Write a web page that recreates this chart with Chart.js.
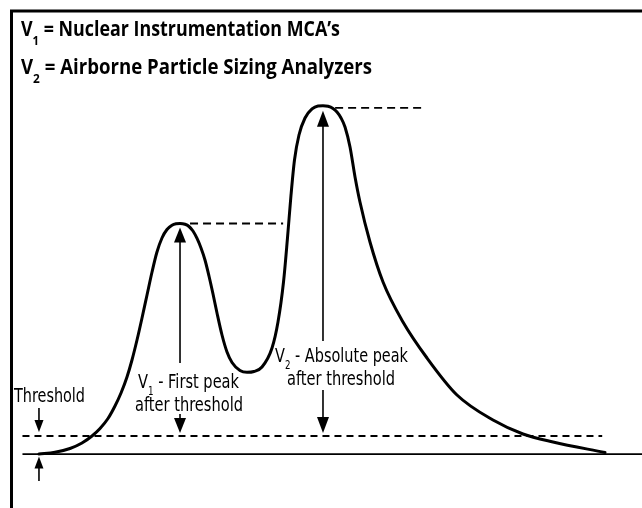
<!DOCTYPE html>
<html>
<head>
<meta charset="utf-8">
<script src="https://cdn.jsdelivr.net/npm/chart.js@4/dist/chart.umd.min.js"></script>
<style>
  html, body { margin: 0; padding: 0; background: #fff; }
  canvas { display: block; }
</style>
</head>
<body>
<canvas id="c" width="642" height="508"></canvas>
<script>
// ---- data ----
const channel   = [6.07, 8.57, 10.90, 12.77, 14.33, 15.58, 16.82, 17.91, 18.85, 19.78,
                   20.56, 21.34, 22.12, 22.90, 23.68, 24.45, 25.23, 26.01, 26.79, 27.41,
                   28.04, 28.82, 29.44, 30.06, 30.69, 31.31, 31.93, 32.55, 33.18, 33.80,
                   34.58, 35.36, 36.14, 37.38, 38.47, 39.56, 40.81, 42.37, 43.30, 44.16,
                   44.78, 45.33, 45.87, 46.57, 47.51, 48.60, 49.53, 50.31, 51.09, 51.87,
                   52.49, 53.12, 53.74, 54.52, 55.30, 56.07, 57.63, 59.66, 62.77, 66.51,
                   71.18, 76.79, 81.46, 86.14, 94.24];
const amplitude = [0.0, 0.51, 1.60, 3.18, 5.19, 7.35, 10.22, 13.82, 17.55, 22.15,
                   27.04, 32.78, 39.11, 45.72, 52.33, 58.08, 62.10, 64.54, 65.75, 66.18,
                   66.27, 66.04, 65.40, 64.11, 61.96, 59.22, 55.77, 51.18, 46.00, 40.54,
                   34.22, 29.33, 26.32, 24.02, 23.50, 23.73, 25.02, 30.48, 37.96, 49.45,
                   62.10, 74.46, 84.52, 91.70, 96.59, 99.18, 100.04, 100.12, 99.95, 99.32,
                   98.31, 96.59, 94.00, 88.25, 79.63, 72.44, 60.95, 49.45, 37.96, 27.61,
                   16.98, 9.78, 5.77, 3.47, 0.45];
const baselineLevel  = 0;
const thresholdLevel = 5.2;
const baselineRange  = [3.5, 100];
const thresholdRange = [3.5, 93.8];
const peak1MarkerRange = [29.6, 44.1];
const peak2MarkerRange = [52.2, 66.2];
const titleLines = [
  { main: 'V', sub: '1', rest: ' = Nuclear Instrumentation MCA\u2019s' },
  { main: 'V', sub: '2', rest: ' = Airborne Particle Sizing Analyzers' }
];
const v1Label = [{ main: 'V', sub: '1', rest: ' - First peak' }, 'after threshold'];
const v2Label = [{ main: 'V', sub: '2', rest: ' - Absolute peak' }, 'after threshold'];
const thresholdLabel = 'Threshold';

// ---- derived peaks ----
let p1 = 0;
for (let i = 1; i < amplitude.length - 1; i++) {
  if (amplitude[i] >= amplitude[i - 1] && amplitude[i] >= amplitude[i + 1]) { p1 = i; break; }
}
let p2 = 0;
amplitude.forEach((v, i) => { if (v > amplitude[p2]) p2 = i; });

const curve = channel.map((x, i) => ({ x, y: amplitude[i] }));
const hline = (r, y) => [{ x: r[0], y }, { x: r[1], y }];

const TITLE_FONT = '"Open Sans", "Liberation Sans", sans-serif';
const NOTE_FONT = '"Liberation Sans Narrow", "DejaVu Sans Condensed", "Liberation Sans", sans-serif';

function richLine(ctx, parts, x, y, width, align) {
  let nat = 0;
  parts.forEach(p => { ctx.font = p.font; p.w = ctx.measureText(p.t).width; nat += p.w; });
  const sx = width / nat;
  const x0 = align === 'center' ? x - width / 2 : x;
  ctx.save();
  ctx.translate(x0, y);
  ctx.scale(sx, 1);
  ctx.textBaseline = 'alphabetic';
  ctx.textAlign = 'left';
  let cx = 0;
  parts.forEach(p => { ctx.font = p.font; ctx.fillText(p.t, cx, p.dy || 0); cx += p.w; });
  ctx.restore();
}

function arrowHead(ctx, x, tipY, dir, len, half) {
  ctx.beginPath();
  ctx.moveTo(x, tipY);
  ctx.lineTo(x - half, tipY - dir * len);
  ctx.lineTo(x + half, tipY - dir * len);
  ctx.closePath();
  ctx.fill();
}
function vline(ctx, x, y1, y2) {
  ctx.beginPath(); ctx.moveTo(x, y1); ctx.lineTo(x, y2); ctx.stroke();
}

const decor = {
  id: 'decor',
  beforeDraw(chart) {
    const ctx = chart.ctx;
    ctx.save();
    ctx.fillStyle = '#fff';
    ctx.fillRect(0, 0, chart.width, chart.height);
    ctx.restore();
  },
  afterDatasetsDraw(chart) {
    const ctx = chart.ctx;
    const X = v => chart.scales.x.getPixelForValue(v);
    const Y = v => chart.scales.y.getPixelForValue(v);
    ctx.save();
    ctx.strokeStyle = '#000';
    ctx.fillStyle = '#000';
    ctx.setLineDash([]);

    // frame (top and left)
    ctx.lineWidth = 3;
    ctx.beginPath();
    ctx.moveTo(11.5, chart.height);
    ctx.lineTo(11.5, 11);
    ctx.lineTo(chart.width, 11);
    ctx.stroke();

    // titles
    const tl = [{ y: 35.7, w: 319 }, { y: 73.5, w: 351 }];
    titleLines.forEach((t, i) => {
      richLine(ctx, [
        { t: t.main, font: 'bold 20.5px ' + TITLE_FONT },
        { t: t.sub, font: 'bold 13px ' + TITLE_FONT, dy: 9.5 },
        { t: t.rest, font: 'bold 20.5px ' + TITLE_FONT }
      ], 21, tl[i].y, tl[i].w, 'left');
    });

    const yThr = Y(thresholdLevel);
    const yBase = Y(baselineLevel);
    ctx.lineWidth = 1.6;

    // V1 arrow + label
    const x1 = X(channel[p1]);
    const y1 = Y(amplitude[p1]);
    const l1a = yThr - 48, l1b = yThr - 25;
    vline(ctx, x1, y1 + 10, l1a - 25);
    vline(ctx, x1, l1b + 3, yThr - 8);
    arrowHead(ctx, x1, y1 + 4, -1, 15, 6);
    arrowHead(ctx, x1, yThr - 3, 1, 15, 6);
    richLine(ctx, [
      { t: v1Label[0].main, font: '20px ' + NOTE_FONT },
      { t: v1Label[0].sub, font: '12px ' + NOTE_FONT, dy: 7 },
      { t: v1Label[0].rest, font: '20px ' + NOTE_FONT }
    ], x1 + 8.5, l1a, 101, 'center');
    richLine(ctx, [{ t: v1Label[1], font: '20px ' + NOTE_FONT }], x1 + 9, l1b, 108, 'center');

    // V2 arrow + label
    const x2 = X(channel[p2]);
    const y2 = Y(amplitude[p2]);
    const l2a = yThr - 73.5, l2b = yThr - 50.5;
    vline(ctx, x2, y2 + 10, l2a - 21.5);
    vline(ctx, x2, l2b + 4.5, yThr - 8);
    arrowHead(ctx, x2, y2 + 5, -1, 16, 6);
    arrowHead(ctx, x2, yThr - 3, 1, 16, 6);
    richLine(ctx, [
      { t: v2Label[0].main, font: '20px ' + NOTE_FONT },
      { t: v2Label[0].sub, font: '12px ' + NOTE_FONT, dy: 7 },
      { t: v2Label[0].rest, font: '20px ' + NOTE_FONT }
    ], x2 + 18.5, l2a, 133, 'center');
    richLine(ctx, [{ t: v2Label[1], font: '20px ' + NOTE_FONT }], x2 + 18, l2b, 108, 'center');

    // threshold arrows + label
    const xt = X(channel[0]);
    vline(ctx, xt, yThr - 28, yThr - 10);
    arrowHead(ctx, xt, yThr - 4, 1, 12, 4.5);
    vline(ctx, xt, yBase + 10, yBase + 27);
    arrowHead(ctx, xt, yBase + 2.5, -1, 12, 4.5);
    richLine(ctx, [{ t: thresholdLabel, font: '20px ' + NOTE_FONT }], 14, yThr - 34, 71, 'left');

    ctx.restore();
  }
};

new Chart(document.getElementById('c'), {
  type: 'scatter',
  data: {
    datasets: [
      { data: hline(baselineRange, baselineLevel), showLine: true, borderColor: '#000', borderWidth: 1.8, pointRadius: 0, clip: false, order: 3 },
      { data: hline(thresholdRange, thresholdLevel), showLine: true, borderColor: '#000', borderWidth: 2, borderDash: [7, 5], pointRadius: 0, clip: false, order: 3 },
      { data: hline(peak1MarkerRange, amplitude[p1]), showLine: true, borderColor: '#000', borderWidth: 1.8, borderDash: [8, 5], pointRadius: 0, clip: false, order: 3 },
      { data: hline(peak2MarkerRange, amplitude[p2] - 0.6), showLine: true, borderColor: '#000', borderWidth: 1.8, borderDash: [8, 5], pointRadius: 0, clip: false, order: 3 },
      { data: curve, showLine: true, borderColor: '#000', borderWidth: 3, pointRadius: 0, cubicInterpolationMode: 'monotone', borderJoinStyle: 'round', borderCapStyle: 'round', clip: false, order: 1 }
    ]
  },
  options: {
    responsive: false,
    animation: false,
    events: [],
    layout: { padding: 0 },
    plugins: { legend: { display: false }, tooltip: { enabled: false }, title: { display: false } },
    scales: {
      x: { type: 'linear', display: false, min: 0, max: 100 },
      y: { type: 'linear', display: false, min: -15.5, max: 130.5 }
    }
  },
  plugins: [decor]
});
</script>
</body>
</html>
